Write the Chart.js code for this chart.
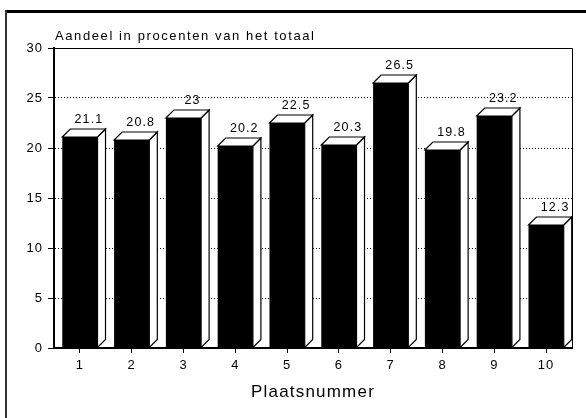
<!DOCTYPE html>
<html>
<head>
<meta charset="utf-8">
<script src="https://cdn.jsdelivr.net/npm/chart.js@4.4.1/dist/chart.umd.min.js"></script>
<style>
  body { margin: 0; background: #fff; }
  canvas { display: block; }
</style>
</head>
<body>
<canvas id="chart" width="586" height="418"></canvas>
<script>
const places = ["1", "2", "3", "4", "5", "6", "7", "8", "9", "10"];
const shares = [21.1, 20.8, 23, 20.2, 22.5, 20.3, 26.5, 19.8, 23.2, 12.3];
const shareLabels = ["21.1", "20.8", "23", "20.2", "22.5", "20.3", "26.5", "19.8", "23.2", "12.3"];
const yTicks = [0, 5, 10, 15, 20, 25, 30];
const chartTitle = "Aandeel in procenten van het totaal";
const axisTitle = "Plaatsnummer";

const FONT = '"Liberation Sans", Arial, Helvetica, sans-serif';
const DEPTH = 8;

// draws the white top and side faces of each bar plus the value above it
const bars3d = {
  id: "bars3d",
  beforeDraw: (chart) => {
    chart.ctx.letterSpacing = "1px";
  },
  afterDatasetsDraw: (chart) => {
    const ctx = chart.ctx;
    const meta = chart.getDatasetMeta(0);
    ctx.save();
    ctx.strokeStyle = "#000";
    ctx.lineWidth = 1.2;
    ctx.setLineDash([]);

    meta.data.forEach((bar, i) => {
      const left = bar.x - bar.width / 2;
      const right = bar.x + bar.width / 2;
      const top = bar.y;
      const bottom = bar.base;

      ctx.fillStyle = "#fff";

      // side face
      ctx.beginPath();
      ctx.moveTo(right, top);
      ctx.lineTo(right + DEPTH, top - DEPTH);
      ctx.lineTo(right + DEPTH, bottom - DEPTH);
      ctx.lineTo(right, bottom);
      ctx.closePath();
      ctx.fill();
      ctx.stroke();

      // top face
      ctx.beginPath();
      ctx.moveTo(left, top);
      ctx.lineTo(left + DEPTH, top - DEPTH);
      ctx.lineTo(right + DEPTH, top - DEPTH);
      ctx.lineTo(right, top);
      ctx.closePath();
      ctx.fill();
      ctx.stroke();

      ctx.fillStyle = "#000";
      ctx.font = "12.5px " + FONT;
      ctx.letterSpacing = "1.1px";
      ctx.textAlign = "center";
      ctx.textBaseline = "alphabetic";
      ctx.fillText(shareLabels[i], bar.x + 9, top - DEPTH - 6);
    });
    ctx.restore();
  },
  afterDraw: (chart) => {
    const ctx = chart.ctx;
    const area = chart.chartArea;
    ctx.save();
    ctx.strokeStyle = "#000";
    ctx.setLineDash([]);

    // top and right edge of the plot
    ctx.lineWidth = 1;
    ctx.beginPath();
    ctx.moveTo(area.left, area.top + 0.5);
    ctx.lineTo(area.right + 0.5, area.top + 0.5);
    ctx.lineTo(area.right + 0.5, area.bottom);
    ctx.stroke();

    // outer frame
    ctx.lineWidth = 3;
    ctx.beginPath();
    ctx.moveTo(5, 11.5);
    ctx.lineTo(586, 11.5);
    ctx.stroke();
    ctx.lineWidth = 2;
    ctx.strokeStyle = "#333";
    ctx.beginPath();
    ctx.moveTo(6, 10);
    ctx.lineTo(6, 418);
    ctx.stroke();

    ctx.fillStyle = "#000";
    ctx.textBaseline = "alphabetic";
    ctx.font = "13px " + FONT;
    ctx.letterSpacing = "1.6px";
    ctx.textAlign = "left";
    ctx.fillText(chartTitle, 55, 40);

    ctx.font = "17px " + FONT;
    ctx.letterSpacing = "1.2px";
    ctx.textAlign = "center";
    ctx.fillText(axisTitle, (area.left + area.right) / 2, 397);
    ctx.restore();

    ctx.letterSpacing = "0px";
  }
};

const chart = new Chart(document.getElementById("chart"), {
  type: "bar",
  data: {
    labels: places,
    datasets: [
      {
        data: shares,
        backgroundColor: "#000",
        borderWidth: 0,
        barPercentage: 0.68,
        categoryPercentage: 1,
      },
    ],
  },
  options: {
    responsive: false,
    animation: false,
    layout: { padding: { left: 0, top: 48, right: 14, bottom: 0 } },
    plugins: {
      legend: { display: false },
      tooltip: { enabled: false },
    },
    scales: {
      x: {
        grid: {
          drawOnChartArea: false,
          offset: false,
          tickLength: 5,
          color: "#000",
          tickBorderDash: [],
        },
        border: { color: "#000", width: 2 },
        ticks: { color: "#000", font: { size: 13, family: FONT }, padding: 5 },
        afterFit: (scale) => {
          scale.height = 70;
        },
      },
      y: {
        min: 0,
        max: 30,
        afterBuildTicks: (scale) => {
          scale.ticks = yTicks.map((v) => ({ value: v }));
        },
        grid: {
          color: "#000",
          lineWidth: 1,
          tickLength: 6,
          tickBorderDash: [],
        },
        border: { color: "#000", width: 2, dash: [1, 2] },
        ticks: { color: "#000", font: { size: 13, family: FONT }, padding: 5 },
        afterFit: (scale) => {
          scale.width = 54;
        },
      },
    },
  },
  plugins: [bars3d],
});
</script>
</body>
</html>
